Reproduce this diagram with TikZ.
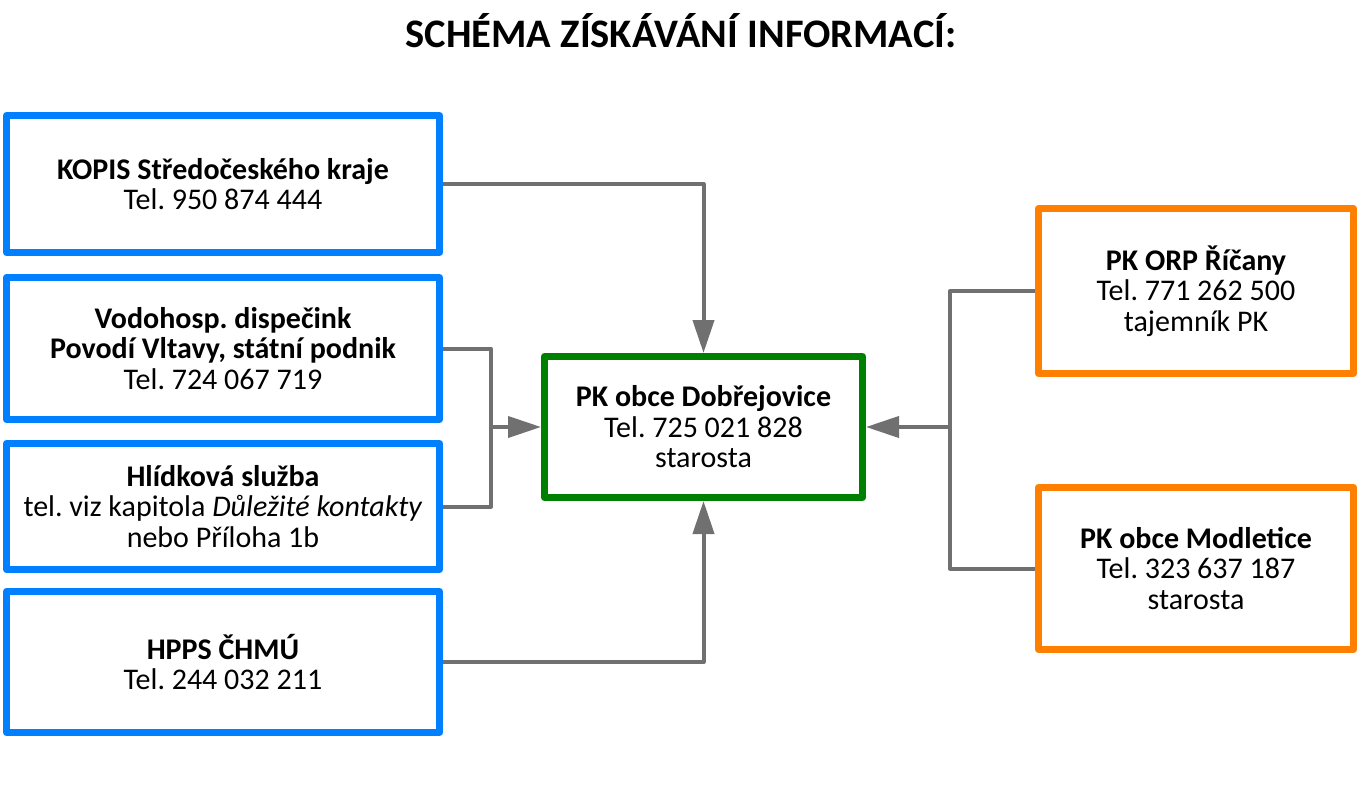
\documentclass[tikz,border=0pt]{standalone}
\usepackage{fontspec}
\setmainfont{Carlito}
\usepackage{tikz}
\usetikzlibrary{arrows.meta,positioning}
\usepackage{xcolor}
\definecolor{scheme-blue}{HTML}{0080FF}
\definecolor{scheme-green}{HTML}{008000}
\definecolor{scheme-orange}{HTML}{FF8000}
\definecolor{scheme-grey}{HTML}{707070}
\frenchspacing

\begin{document}
\begin{tikzpicture}[x=1pt, y=-1pt, >={Triangle[length=33pt,width=21pt]}, line join=round]
  \tikzstyle{box}=[draw, line width=7pt, align=center, inner sep=0pt, text=black,
                   font=\fontsize{30}{30.5}\selectfont]
  \tikzstyle{source}=[box, draw=scheme-blue, minimum width=433pt]
  \tikzstyle{target}=[box, draw=scheme-green, minimum width=318pt, minimum height=141pt]
  \tikzstyle{neighbour}=[box, draw=scheme-orange, minimum width=315pt]
  \tikzstyle{link}=[draw=scheme-grey, line width=4pt]
  \tikzstyle{conn}=[link, ->, scheme-grey]

  \useasboundingbox (0,0) rectangle (1360,787);

  \node[anchor=base, font=\fontsize{40.5}{48}\selectfont\bfseries] (title) at (681,47) {SCHÉMA ZÍSKÁVÁNÍ INFORMACÍ:};

  %% sources
  \node[source, minimum height=137pt] (kopis) at (223,184)   {\textbf{KOPIS Středočeského kraje}\\Tel. 950 874 444};
  \node[source, minimum height=142pt] (vodo)  at (223,348.5) {\textbf{Vodohosp. dispečink}\\\textbf{Povodí Vltavy, státní podnik}\\Tel. 724 067 719};
  \node[source, minimum height=126pt] (hlid)  at (223,506.5) {\textbf{Hlídková služba}\\tel. viz kapitola \textit{Důležité kontakty}\\nebo Příloha 1b};
  \node[source, minimum height=141pt] (hpps)  at (223,662)   {\textbf{HPPS ČHMÚ}\\Tel. 244 032 211};

  \node[target] (pk) at (703.5,427) {\textbf{PK obce Dobřejovice}\\Tel. 725 021 828\\starosta};

  \node[neighbour, minimum height=165pt] (orp)  at (1196,291)   {\textbf{PK ORP Říčany}\\Tel. 771 262 500\\tajemník PK};
  \node[neighbour, minimum height=162pt] (modl) at (1196,568.5) {\textbf{PK obce Modletice}\\Tel. 323 637 187\\starosta};

  \coordinate (jl) at (491,427);
  \coordinate (jr) at (950,427);

  %% connectors
  \draw[conn] (kopis.east) -| (pk.north);
  \draw[conn] (hpps.east) -| (pk.south);
  \draw[link] (vodo.east) -| (jl) |- (hlid.east);
  \draw[conn] (jl) -- (pk.west);
  \draw[link] (orp.west) -| (jr) |- (modl.west);
  \draw[conn] (jr) -- (pk.east);
\end{tikzpicture}
\end{document}
